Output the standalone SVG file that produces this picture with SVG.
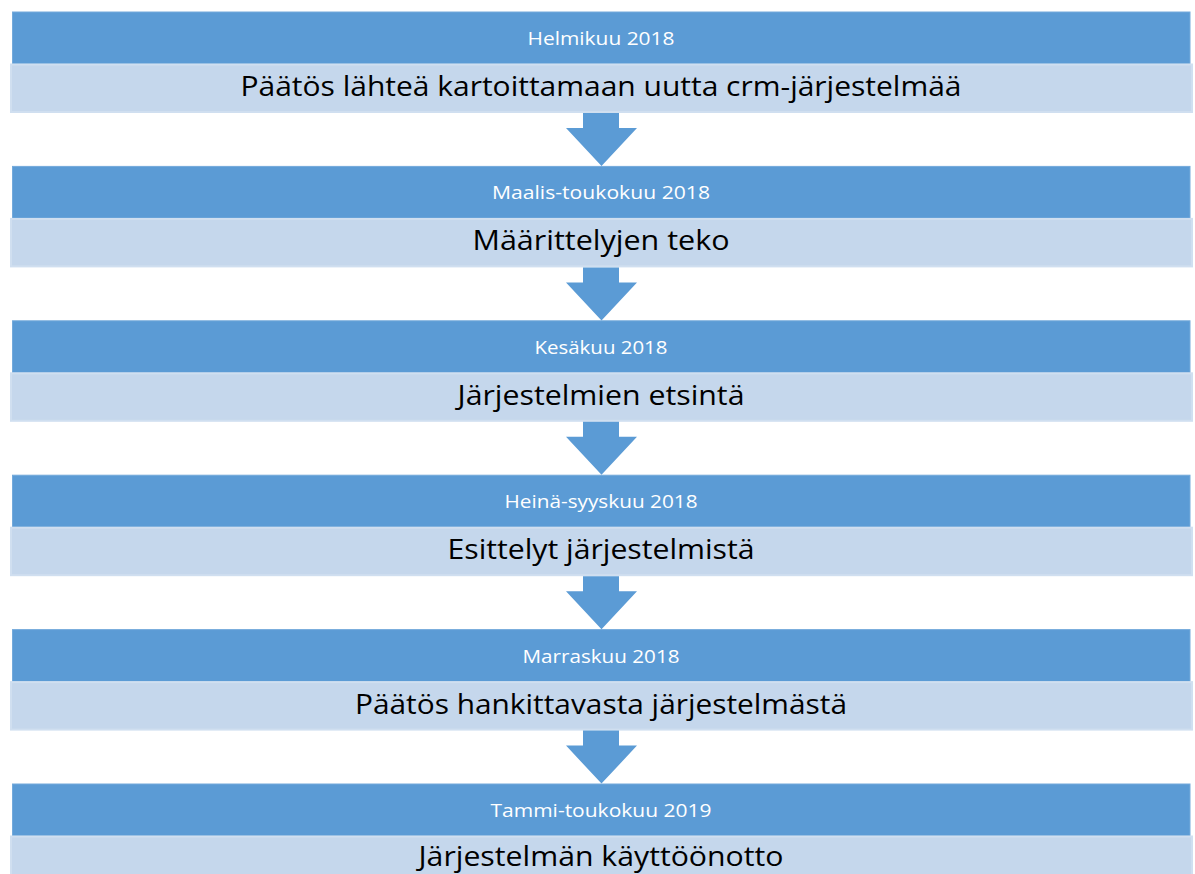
<svg xmlns="http://www.w3.org/2000/svg" width="1195" height="874" viewBox="0 0 1195 874">
<defs>
<style>
.hd{fill:#5B9BD5;stroke:#74AADB;stroke-width:1}
.bd{fill:#C5D7EC;stroke:#D0DFF0;stroke-width:2}
.ht{font-family:"Open Sans","Liberation Sans",sans-serif;font-size:19px;fill:#FFFFFF;text-anchor:middle}
.bt{font-family:"Open Sans","Liberation Sans",sans-serif;font-size:28px;fill:#000000;text-anchor:middle}
.ar{fill:#5B9BD5}
</style>
</defs>
<rect width="1195" height="874" fill="#FFFFFF"/>
<g id="stage1">
<rect class="hd" x="12.5" y="12" width="1177.5" height="52"/>
<rect class="bd" x="11" y="64.5" width="1181" height="47.5"/>
<text class="ht" x="601" y="45" textLength="147" lengthAdjust="spacingAndGlyphs">Helmikuu 2018</text>
<text class="bt" x="601" y="96" textLength="721" lengthAdjust="spacingAndGlyphs">Päätös lähteä kartoittamaan uutta crm-järjestelmää</text>
</g>
<g id="stage2">
<rect class="hd" x="12.5" y="166.4" width="1177.5" height="52"/>
<rect class="bd" x="11" y="218.9" width="1181" height="47.5"/>
<text class="ht" x="601" y="199.4" textLength="218" lengthAdjust="spacingAndGlyphs">Maalis-toukokuu 2018</text>
<text class="bt" x="601" y="250.4" textLength="257" lengthAdjust="spacingAndGlyphs">Määrittelyjen teko</text>
</g>
<g id="stage3">
<rect class="hd" x="12.5" y="320.8" width="1177.5" height="52"/>
<rect class="bd" x="11" y="373.3" width="1181" height="47.5"/>
<text class="ht" x="601" y="353.8" textLength="133" lengthAdjust="spacingAndGlyphs">Kesäkuu 2018</text>
<text class="bt" x="601" y="404.8" textLength="287" lengthAdjust="spacingAndGlyphs">Järjestelmien etsintä</text>
</g>
<g id="stage4">
<rect class="hd" x="12.5" y="475.2" width="1177.5" height="52"/>
<rect class="bd" x="11" y="527.7" width="1181" height="47.5"/>
<text class="ht" x="601" y="508.2" textLength="193" lengthAdjust="spacingAndGlyphs">Heinä-syyskuu 2018</text>
<text class="bt" x="601" y="559.2" textLength="307" lengthAdjust="spacingAndGlyphs">Esittelyt järjestelmistä</text>
</g>
<g id="stage5">
<rect class="hd" x="12.5" y="629.6" width="1177.5" height="52"/>
<rect class="bd" x="11" y="682.1" width="1181" height="47.5"/>
<text class="ht" x="601" y="662.6" textLength="157" lengthAdjust="spacingAndGlyphs">Marraskuu 2018</text>
<text class="bt" x="601" y="713.6" textLength="492" lengthAdjust="spacingAndGlyphs">Päätös hankittavasta järjestelmästä</text>
</g>
<g id="stage6">
<rect class="hd" x="12.5" y="784" width="1177.5" height="52"/>
<rect class="bd" x="11" y="836.5" width="1181" height="47.5"/>
<text class="ht" x="601" y="817" textLength="221" lengthAdjust="spacingAndGlyphs">Tammi-toukokuu 2019</text>
<text class="bt" x="601" y="866" textLength="365" lengthAdjust="spacingAndGlyphs">Järjestelmän käyttöönotto</text>
</g>
<g id="connectors">
<polygon class="ar" points="583,113 619,113 619,128 637,128 601.5,166 566,128 583,128"/>
<polygon class="ar" points="583,267.4 619,267.4 619,282.4 637,282.4 601.5,320.4 566,282.4 583,282.4"/>
<polygon class="ar" points="583,421.8 619,421.8 619,436.8 637,436.8 601.5,474.8 566,436.8 583,436.8"/>
<polygon class="ar" points="583,576.2 619,576.2 619,591.2 637,591.2 601.5,629.2 566,591.2 583,591.2"/>
<polygon class="ar" points="583,730.6 619,730.6 619,745.6 637,745.6 601.5,783.6 566,745.6 583,745.6"/>
</g>
</svg>
